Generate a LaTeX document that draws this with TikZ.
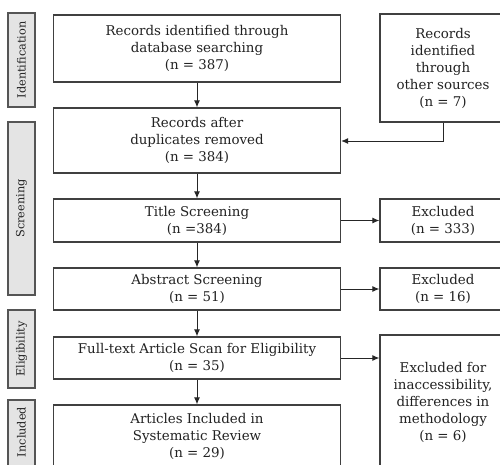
\documentclass[tikz,border=0pt]{standalone}
\usepackage{fontspec}
\setmainfont{DejaVu Serif}
\usetikzlibrary{arrows.meta}
\definecolor{boxline}{HTML}{404040}
\definecolor{txt}{HTML}{222222}
\definecolor{sidefill}{HTML}{E4E4E4}
\definecolor{sideline}{HTML}{555555}
\tikzset{
  flowbox/.style={draw=boxline, line width=1.3pt, fill=white, text=txt, align=center,
    inner sep=0pt, font=\fontsize{13.4}{17}\selectfont},
  sidebox/.style={draw=sideline, line width=1.6pt, fill=sidefill, inner sep=0pt},
  sidetext/.style={rotate=90, text=txt, font=\fontsize{11.3}{12}\selectfont},
  flowarrow/.style={draw=black!85, line width=1pt, -{Latex[length=7pt,width=6pt]}},
}
\begin{document}
\begin{tikzpicture}[x=1pt,y=-1pt]
\useasboundingbox (0,0) rectangle (500,464);
\fill[white] (0,0) rectangle (500,464);
\begin{scope}
\clip (0,0) rectangle (500,464);
% side labels
\node[sidebox, minimum width=27pt, minimum height=94pt] (sid) at (21.5,60) {};
\node[sidetext] at (sid.center) {Identification};
\node[sidebox, minimum width=27pt, minimum height=173pt] (sscr) at (21.5,208.5) {};
\node[sidetext] at (sscr.center) {Screening};
\node[sidebox, minimum width=27pt, minimum height=78pt] (selig) at (21.5,349) {};
\node[sidetext] at (selig.center) {Eligibility};
\node[sidebox, minimum width=27pt, minimum height=70pt] (sinc) at (21.5,435) {};
\node[sidetext] at ([yshift=3pt]sinc.center) {Included};
% main column
\node[flowbox, minimum width=287pt, minimum height=67pt] (db) at (197,48.5)
  {Records identified through\\database searching\\(n = 387)};
\node[flowbox, minimum width=287pt, minimum height=65pt] (dup) at (197,140.5)
  {Records after\\duplicates removed\\(n = 384)};
\node[flowbox, minimum width=287pt, minimum height=43pt] (title) at (197,220.5)
  {Title Screening\\(n =384)};
\node[flowbox, minimum width=287pt, minimum height=42pt] (abs) at (197,289)
  {Abstract Screening\\(n = 51)};
\node[flowbox, minimum width=287pt, minimum height=42pt] (full) at (197,358)
  {Full-text Article Scan for Eligibility\\(n = 35)};
\node[flowbox, minimum width=287pt, minimum height=62pt] (inc) at (197,436)
  {Articles Included in\\Systematic Review\\(n = 29)};
% right column
\node[flowbox, minimum width=126pt, minimum height=108pt] (other) at (443,68)
  {Records\\identified\\through\\other sources\\(n = 7)};
\node[flowbox, minimum width=126pt, minimum height=43pt] (ex1) at (443,220.5)
  {Excluded\\(n = 333)};
\node[flowbox, minimum width=126pt, minimum height=42pt] (ex2) at (443,289)
  {Excluded\\(n = 16)};
\node[flowbox, minimum width=126pt, minimum height=134pt] (ex3) at (443,402)
  {Excluded for\\inaccessibility,\\differences in\\methodology\\(n = 6)};
% arrows
\draw[flowarrow] (db.south) -- (dup.north);
\draw[flowarrow] (dup.south) -- (title.north);
\draw[flowarrow] (title.south) -- (abs.north);
\draw[flowarrow] (abs.south) -- (full.north);
\draw[flowarrow] (full.south) -- (inc.north);
\draw[flowarrow] (title.east) -- (ex1.west);
\draw[flowarrow] (abs.east) -- (ex2.west);
\draw[flowarrow] (full.east) -- (ex3.west |- full.east);
\draw[flowarrow] (other.south) |- ([yshift=-0.5pt]dup.east);
\end{scope}
\end{tikzpicture}
\end{document}
